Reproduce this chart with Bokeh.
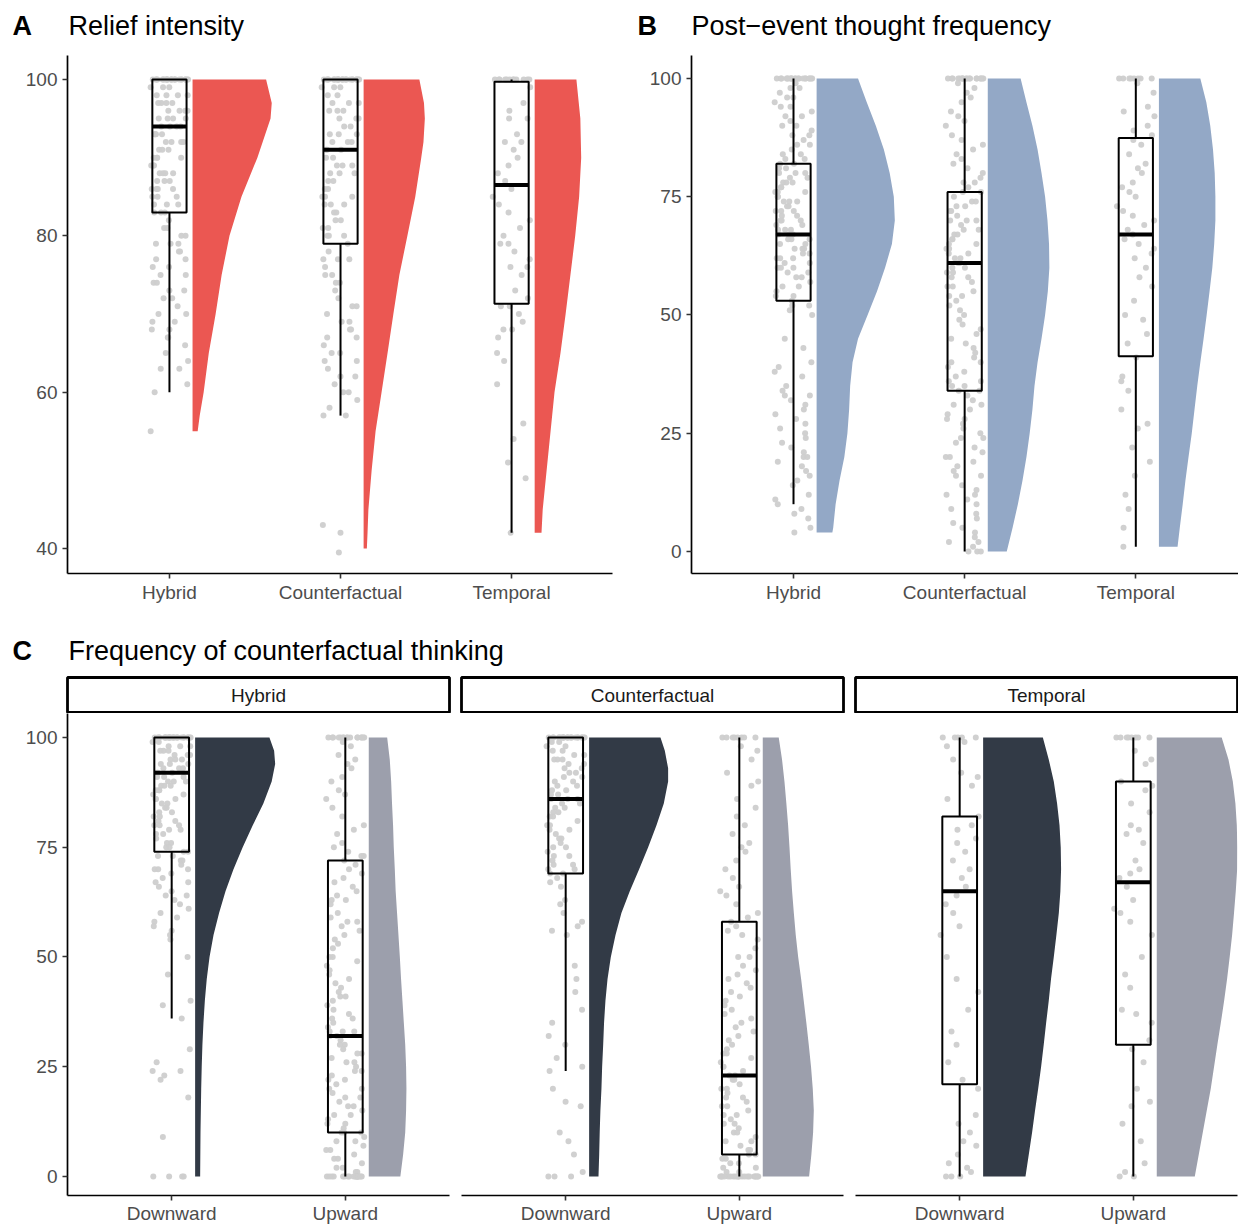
import math
from bokeh.plotting import figure
from bokeh.layouts import column, row
from bokeh.models import FixedTicker, Range1d
from bokeh.embed import file_html
from bokeh.resources import INLINE
from bokeh.core.properties import value

# ---------------- DATA ----------------
groups_ab = ["Hybrid", "Counterfactual", "Temporal"]
groups_c = ["Downward", "Upward"]
ticks_a = [40, 60, 80, 100]
ticks_bc = [0, 25, 50, 75, 100]

# box stats: (whisker low, q1, median, q3, whisker high)
box_a = [(60, 83, 94, 100, 100), (57, 79, 91, 100, 100), (42, 71.3, 86.5, 99.7, 100)]
box_b = [(10, 53, 67, 82, 100), (0, 34, 61, 76, 100), (1, 41.3, 67, 87.4, 100)]
box_c = {
    "Hybrid": [(36, 74, 92, 100, 100), (0, 10, 32, 72, 100)],
    "Counterfactual": [(24, 69, 86, 100, 100), (0, 5, 23, 58, 100)],
    "Temporal": [(0, 21, 65, 82, 100), (0, 30, 67, 90, 100)],
}

# half-violin outlines: y levels and half widths (x units)
vio_a_y = [
    [55, 57, 60, 65, 70, 75, 80, 85, 90, 95, 97, 100],
    [40, 42, 45, 50, 55, 60, 65, 70, 75, 80, 85, 90, 92, 95, 97, 100],
    [42, 45, 50, 55, 60, 65, 70, 75, 80, 85, 90, 95, 100],
]
vio_a_w = [
    [0.030, 0.042, 0.065, 0.095, 0.135, 0.170, 0.216, 0.286, 0.379, 0.456, 0.463, 0.430],
    [0.019, 0.023, 0.028, 0.047, 0.070, 0.105, 0.140, 0.174, 0.209, 0.256, 0.302, 0.337, 0.350, 0.358, 0.353, 0.326],
    [0.040, 0.047, 0.070, 0.093, 0.116, 0.151, 0.181, 0.209, 0.237, 0.260, 0.272, 0.267, 0.244],
]
vio_b_y = [
    [4, 5, 10, 15, 20, 25, 30, 35, 40, 45, 50, 55, 60, 65, 70, 75, 80, 85, 90, 95, 100],
    [0, 5, 10, 15, 20, 25, 30, 35, 40, 45, 50, 55, 60, 65, 70, 75, 80, 85, 90, 95, 100],
    [1, 5, 10, 15, 20, 25, 30, 35, 40, 45, 50, 55, 60, 65, 70, 75, 80, 85, 90, 95, 100],
]
vio_b_w = [
    [0.092, 0.097, 0.111, 0.134, 0.162, 0.180, 0.190, 0.196, 0.210, 0.242, 0.298, 0.353, 0.400, 0.440, 0.457, 0.451, 0.427, 0.393, 0.346, 0.293, 0.242],
    [0.111, 0.145, 0.176, 0.203, 0.226, 0.245, 0.261, 0.273, 0.291, 0.314, 0.335, 0.351, 0.360, 0.358, 0.349, 0.335, 0.314, 0.291, 0.261, 0.226, 0.192],
    [0.109, 0.122, 0.139, 0.155, 0.173, 0.192, 0.208, 0.224, 0.242, 0.261, 0.279, 0.296, 0.312, 0.323, 0.330, 0.330, 0.326, 0.316, 0.300, 0.277, 0.242],
]
lev21 = [0, 5, 10, 15, 20, 25, 30, 35, 40, 45, 50, 55, 60, 65, 70, 75, 80, 85, 90, 95, 100]
vio_c_y = {
    "Hybrid": [[0, 10, 20, 25, 30, 35, 40, 45, 50, 55, 60, 65, 70, 75, 80, 85, 90, 94, 97, 100], lev21],
    "Counterfactual": [[0, 5, 10, 15, 20, 25, 30, 35, 40, 45, 50, 55, 60, 65, 70, 75, 80, 85, 90, 93, 97, 100], lev21],
    "Temporal": [lev21, lev21],
}
vio_c_w = {
    "Hybrid": [
        [0.029, 0.031, 0.035, 0.038, 0.042, 0.048, 0.056, 0.067, 0.083, 0.106, 0.138, 0.175, 0.221, 0.274, 0.332, 0.393, 0.441, 0.461, 0.455, 0.428],
        [0.182, 0.198, 0.210, 0.215, 0.217, 0.215, 0.210, 0.202, 0.194, 0.186, 0.179, 0.171, 0.163, 0.155, 0.150, 0.144, 0.140, 0.134, 0.129, 0.121, 0.106],
    ],
    "Counterfactual": [
        [0.054, 0.058, 0.061, 0.065, 0.071, 0.075, 0.081, 0.086, 0.094, 0.106, 0.125, 0.152, 0.186, 0.234, 0.288, 0.340, 0.388, 0.430, 0.455, 0.455, 0.436, 0.411],
        [0.267, 0.280, 0.290, 0.294, 0.288, 0.278, 0.265, 0.251, 0.236, 0.221, 0.204, 0.190, 0.179, 0.169, 0.161, 0.154, 0.146, 0.136, 0.125, 0.111, 0.092],
    ],
    "Temporal": [
        [0.244, 0.263, 0.282, 0.299, 0.317, 0.334, 0.349, 0.363, 0.378, 0.391, 0.407, 0.422, 0.436, 0.445, 0.449, 0.447, 0.440, 0.426, 0.407, 0.378, 0.344],
        [0.219, 0.242, 0.265, 0.288, 0.311, 0.330, 0.349, 0.369, 0.388, 0.405, 0.420, 0.434, 0.445, 0.455, 0.463, 0.464, 0.461, 0.453, 0.438, 0.413, 0.374],
    ],
}

# raw (jittered) observations
pts_a = [
    [100, 100, 100, 100, 100, 100, 100, 100, 100, 100, 100, 100, 100, 100, 100, 100, 100, 100,
     100, 100, 100, 100, 100, 100,
     99, 99, 99, 98, 98, 98, 98, 97, 97, 97, 97, 96, 96, 96, 96, 95, 95, 95, 95, 94, 94, 94, 94,
     93, 93, 93, 93, 92, 92, 92, 92, 91, 91, 91, 90, 90, 90, 90, 89, 89, 89, 88, 88, 88, 88, 87,
     87, 87, 86, 86, 86, 86, 85, 85, 85, 84, 84, 84, 83, 83, 83,
     82, 81, 81, 80, 80, 79, 79, 79, 78, 78, 77, 77, 76, 76, 75, 75, 74, 74, 73, 73, 72, 72, 71,
     70, 70, 69, 69, 68, 68, 67, 67, 66, 65, 64, 63, 63, 61, 60, 55],
    [100, 100, 100, 100, 100, 100, 100, 100, 100, 100, 100, 100, 100, 100, 100, 100, 100, 100,
     100, 100, 100, 100, 100, 100,
     99, 99, 99, 98, 98, 97, 97, 97, 96, 96, 96, 95, 95, 95, 94, 94, 93, 93, 93, 92, 92, 92, 91,
     91, 91, 90, 90, 89, 89, 89, 88, 88, 88, 87, 87, 86, 86, 85, 85, 85, 84, 84, 84, 83, 83, 82,
     82, 81, 81, 80, 80, 80, 79,
     78, 77, 77, 77, 76, 75, 75, 74, 74, 73, 72, 71, 71, 70, 69, 69, 68, 68, 67, 67, 66, 65, 65,
     64, 64, 63, 62, 62, 61, 60, 60, 59, 58, 57, 57, 43, 42, 39.5],
    [100, 100, 100, 100, 100, 100, 100, 100, 100, 100, 100, 100, 99, 97, 96, 95, 95, 93, 92, 92,
     91, 90, 89, 88, 87, 86, 85, 84, 83, 82, 81, 80, 79, 79, 78, 77, 76, 76, 75, 73, 72, 71, 71,
     70, 69, 68, 68, 67, 65, 64, 61, 56, 54, 51, 49, 42],
]
pts_b = [
    [100, 100, 100, 100, 100, 100, 100, 100, 100, 100, 100, 100, 100, 100, 100, 100, 100, 100,
     100, 100, 99, 98, 98, 97, 96, 96, 95, 94, 94, 93, 92, 92, 91, 90, 90, 89, 88, 88, 87, 86,
     86, 85, 84, 84, 83, 83, 82, 82, 81, 81, 80, 80, 80, 79, 79, 78, 78, 78, 77, 77, 76, 76, 76,
     75, 75, 74, 74, 74, 73, 73, 72, 72, 72, 71, 71, 70, 70, 70, 69, 69, 68, 68, 68, 67, 67, 67,
     66, 66, 66, 65, 65, 64, 64, 64, 63, 63, 62, 62, 62, 61, 61, 60, 60, 60, 59, 59, 58, 58, 57,
     56, 56, 55, 54, 54, 53, 52, 52, 51, 50, 45, 43, 40, 39, 38, 37, 35, 34, 33, 33, 32, 31, 30,
     29, 28, 27, 26, 25, 24, 23, 22, 21, 20, 20, 19, 18, 17, 16, 15, 14, 12, 11, 10, 9, 8, 7,
     5, 4],
    [100, 100, 100, 100, 100, 100, 100, 100, 100, 100, 100, 100, 100, 100, 100, 100, 100, 100,
     99, 98, 97, 96, 95, 93, 92, 91, 90, 88, 87, 86, 85, 84, 83, 82, 81, 80, 79, 78, 78, 77, 76,
     76, 75, 74, 74, 73, 73, 72, 72, 71, 70, 70, 70, 69, 68, 68, 67, 67, 66, 66, 65, 65, 64, 64,
     63, 63, 62, 62, 61, 61, 60, 60, 59, 59, 58, 58, 57, 56, 56, 55, 54, 54, 53, 52, 51, 50, 49,
     48, 47, 46, 45, 44, 43, 42, 41, 40, 40, 39, 38, 37, 36, 36, 35, 35, 34, 34, 33, 32, 31, 31,
     30, 29, 28, 28, 27, 26, 25, 24, 24, 23, 22, 21, 20, 20, 19, 18, 17, 16, 16, 14, 13, 12, 12,
     11, 10, 9, 8, 7, 6, 5, 4, 3, 2, 2, 1, 0, 0, 0],
    [100, 100, 100, 100, 100, 100, 100, 100, 99, 97, 94, 93, 92, 90, 89, 88, 87, 86, 84, 82, 81,
     80, 78, 77, 76, 75, 73, 72, 71, 70, 69, 68, 67, 66, 65, 64, 63, 62, 60, 58, 56, 53, 50, 49,
     46, 44, 41, 37, 36, 34, 30, 27, 26, 22, 19, 16, 12, 9, 5, 1],
]
pts_c = {
    "Hybrid": [
        [100, 100, 100, 100, 100, 100, 100, 100, 100, 100, 100, 100, 100, 100, 100, 100, 100, 100,
         100, 100, 100, 100, 100, 100, 100, 100,
         99, 99, 98, 98, 98, 97, 97, 97, 96, 96, 96, 95, 95, 95, 94, 94, 94, 93, 93, 93, 92, 92,
         92, 91, 91, 91, 90, 90, 90, 89, 89, 89, 88, 88, 88, 87, 87, 86, 86, 86, 85, 85, 84, 84,
         83, 83, 82, 82, 81, 81, 80, 80, 80, 79, 79, 78, 78, 77, 76, 76, 75, 75, 74, 74, 73, 73,
         72, 72, 71, 70, 70, 70, 69, 68, 67, 67, 66, 65, 64, 64, 63, 62, 61, 60, 59, 58, 57, 56,
         55, 54, 50, 46, 40, 39, 36, 29, 26, 24, 24, 23, 22, 18, 9, 0, 0, 0, 0],
        [100, 100, 100, 100, 100, 100, 100, 100, 100, 100, 100, 100, 100, 100, 100, 100, 99, 98,
         96, 95, 94, 93, 91, 90, 88, 87, 86, 84, 82, 80, 79, 78, 76, 75, 74, 73, 73, 72, 71, 70,
         69, 68, 67, 66, 65, 64, 63, 63, 62, 60, 59, 58, 58, 57, 56, 55, 54, 53, 52, 50, 50, 49,
         48, 47, 46, 45, 44, 43, 42, 41, 41, 40, 39, 38, 37, 36, 36, 35, 34, 33, 33, 33, 32, 32,
         31, 30, 30, 29, 28, 28, 27, 26, 26, 25, 24, 24, 23, 22, 22, 21, 20, 20, 19, 18, 18, 17,
         16, 16, 15, 14, 14, 13, 12, 12, 11, 10, 10, 10, 9, 8, 8, 7, 6, 6, 5, 4, 4, 3, 2, 2, 1,
         1, 0, 0, 0, 0, 0, 0, 0, 0, 0, 0, 0, 0, 0, 0, 0, 0, 0, 0],
    ],
    "Counterfactual": [
        [100, 100, 100, 100, 100, 100, 100, 100, 100, 100, 100, 100, 100, 100, 100, 100, 100, 100,
         100, 100, 100, 100, 100, 99, 99, 98, 98, 97, 97, 96, 96, 95, 95, 95, 94, 94, 93, 93, 92,
         92, 91, 91, 90, 90, 89, 89, 88, 88, 87, 87, 86, 86, 86, 85, 85, 84, 84, 83, 83, 82, 82,
         81, 80, 80, 79, 79, 78, 77, 77, 76, 75, 75, 74, 73, 73, 72, 71, 71, 70, 70, 69, 69, 68,
         67, 66, 63, 62, 60, 58, 57, 56, 55, 48, 45, 42, 38, 35, 32, 30, 27, 25, 24, 20, 17, 16,
         10, 8, 5, 1, 0, 0, 0],
        [100, 100, 100, 100, 100, 100, 100, 100, 98, 97, 95, 92, 90, 89, 86, 84, 82, 80, 78, 76,
         75, 74, 72, 70, 68, 66, 65, 64, 62, 60, 59, 58, 57, 56, 55, 54, 52, 50, 50, 48, 47, 46,
         45, 44, 43, 42, 41, 40, 39, 38, 37, 36, 35, 34, 33, 32, 31, 30, 29, 28, 28, 27, 26, 25,
         25, 24, 23, 23, 22, 22, 21, 20, 20, 19, 18, 18, 17, 16, 16, 15, 14, 14, 13, 12, 12, 11,
         10, 10, 9, 8, 8, 7, 6, 6, 5, 5, 4, 4, 3, 3, 2, 2, 1, 1, 0, 0, 0, 0, 0, 0, 0, 0, 0, 0,
         0, 0, 0, 0, 0, 0, 0, 0, 0, 0],
    ],
    "Temporal": [
        [100, 100, 100, 100, 100, 99, 98, 95, 92, 91, 89, 86, 82, 80, 79, 77, 76, 74, 72, 70, 68,
         66, 64, 62, 60, 57, 55, 50, 45, 42, 38, 33, 30, 26, 22, 20, 14, 12, 10, 8, 7, 5, 3, 2, 1,
         0, 0, 0],
        [100, 100, 100, 100, 100, 100, 100, 100, 97, 95, 94, 90, 89, 88, 85, 83, 80, 79, 78, 76,
         72, 70, 69, 68, 66, 63, 61, 60, 58, 55, 50, 46, 43, 38, 37, 35, 31, 29, 26, 20, 17, 16,
         12, 8, 3, 1, 0, 0],
    ],
}

# ---------------- STYLE ----------------
FONT = "Liberation Sans"
LABEL_COL = "#4D4D4D"
PT_COL = "#CDCDCD"
COL_A = "#EB5752"
COL_B = "#93A8C6"
COL_C = ["#323A46", "#9C9FAC"]
BOX_W = 0.2
VIO_OFF = 0.135
JIT = 0.11
TXT_SHIFT = 10  # measured offset of the rendered alphabetic baseline


def jitter(n):
    out = []
    for i in range(n):
        u = math.sin((i + 1) * 12.9898) * 43758.5453
        u = u - math.floor(u)
        out.append((u * 2 - 1) * JIT)
    return out


def style_axes(p, xticks, xlabels, yticks):
    p.xgrid.visible = False
    p.ygrid.visible = False
    p.outline_line_color = None
    for ax in p.axis:
        ax.axis_line_color = "black"
        ax.axis_line_width = 1.7
        ax.major_tick_line_color = "#333333"
        ax.major_tick_line_width = 1.6
        ax.major_tick_in = 0
        ax.major_tick_out = 5
        ax.minor_tick_line_color = None
        ax.major_label_text_font = FONT
        ax.major_label_text_font_size = "19px"
        ax.major_label_text_color = LABEL_COL
    p.xaxis.ticker = FixedTicker(ticks=xticks)
    p.xaxis.major_label_overrides = {t: l for t, l in zip(xticks, xlabels)}
    p.xaxis.major_label_standoff = 3
    if p.yaxis:
        p.yaxis.ticker = FixedTicker(ticks=yticks)
        p.yaxis.major_label_standoff = 5


def draw_group(p, c, box, vy, vw, pts, color):
    p.harea(x1=[c + VIO_OFF] * len(vy), x2=[c + VIO_OFF + w for w in vw], y=vy,
            fill_color=color, fill_alpha=1.0)
    js = jitter(len(pts))
    p.scatter(x=[c + j for j in js], y=pts, size=6, fill_color=PT_COL,
              line_color=None, fill_alpha=0.95)
    lo, q1, med, q3, hi = box
    p.segment(x0=[c, c], x1=[c, c], y0=[lo, q3], y1=[q1, hi], line_color="black", line_width=2)
    p.quad(left=[c - BOX_W / 2], right=[c + BOX_W / 2], bottom=[q1], top=[q3],
           fill_color=None, line_color="black", line_width=2)
    p.segment(x0=[c - BOX_W / 2], x1=[c + BOX_W / 2], y0=[med], y1=[med],
              line_color="black", line_width=4)


def blank(width, height, xr, yr):
    f = figure(width=width, height=height, x_range=Range1d(*xr), y_range=Range1d(*yr),
               output_backend="svg", toolbar_location=None, x_axis_location=None,
               y_axis_location=None, min_border=0)
    f.xgrid.visible = False
    f.ygrid.visible = False
    f.outline_line_color = None
    return f


TOTAL_W = 1238


def title_row(height, baseline_page_y, top_page_y, items):
    f = blank(TOTAL_W, height, (0, TOTAL_W), (0, height))
    y = height - (baseline_page_y - top_page_y) + TXT_SHIFT
    for x, txt, bold in items:
        f.text(x=[x], y=[y], text=[txt], text_font=value(FONT), text_font_size="27px",
               text_font_style="bold" if bold else "normal", text_color="black",
               text_baseline="alphabetic")
    return f


# ---- title row A/B ----  (page 0..55)
t1 = title_row(55, 35, 0, [(12, "A", True), (68, "Relief intensity", False),
                           (637, "B", True), (691, "Post\u2212event thought frequency", False)])

# ---- panels A and B ----  (page 55..612, frame 55..573)
xt3 = [1, 2, 3]
pa = figure(width=630, height=557, x_range=Range1d(0.404, 3.59), y_range=Range1d(36.8, 103.07),
            output_backend="svg", toolbar_location=None, min_border_left=67,
            min_border_right=18, min_border_top=0, min_border_bottom=39)
style_axes(pa, xt3, groups_ab, ticks_a)
for i in range(3):
    draw_group(pa, i + 1, box_a[i], vio_a_y[i], vio_a_w[i], pts_a[i], COL_A)

pb = figure(width=608, height=557, x_range=Range1d(0.404, 3.6), y_range=Range1d(-4.65, 104.86),
            output_backend="svg", toolbar_location=None, min_border_left=61,
            min_border_right=0, min_border_top=0, min_border_bottom=39)
style_axes(pb, xt3, groups_ab, ticks_bc)
for i in range(3):
    draw_group(pb, i + 1, box_b[i], vio_b_y[i], vio_b_w[i], pts_b[i], COL_B)

# ---- title row C ----  (page 612..675)
t2 = title_row(63, 660, 612, [(12, "C", True), (68, "Frequency of counterfactual thinking", False)])

# ---- facets C ----  (strips page 675..713, panels 713..1226)
facet_specs = [("Hybrid", 455, 67, 6), ("Counterfactual", 394, 6, 6), ("Temporal", 389, 6, 1)]
cols = []
xt2 = [1, 2]
for k, (name, w, bl, br) in enumerate(facet_specs):
    s = figure(width=w, height=38, x_range=Range1d(0, 1), y_range=Range1d(0, 1),
               output_backend="svg", toolbar_location=None, x_axis_location=None,
               y_axis_location=None, min_border_left=bl, min_border_right=br,
               min_border_top=2, min_border_bottom=1)
    s.xgrid.visible = False
    s.ygrid.visible = False
    s.outline_line_color = "black"
    s.outline_line_width = 2.8
    s.text(x=[0.5], y=[0.5], text=[name], text_font=value(FONT), text_font_size="19px",
           text_color="#1A1A1A", text_align="center", text_baseline="middle")
    kw = {} if k == 0 else {"y_axis_location": None}
    f = figure(width=w, height=513, x_range=Range1d(0.4, 2.6), y_range=Range1d(-4.35, 105.48),
               output_backend="svg", toolbar_location=None, min_border_left=bl,
               min_border_right=br, min_border_top=0, min_border_bottom=28, **kw)
    style_axes(f, xt2, groups_c, ticks_bc)
    f.xaxis.major_label_standoff = 2
    for j in range(2):
        draw_group(f, j + 1, box_c[name][j], vio_c_y[name][j], vio_c_w[name][j],
                   pts_c[name][j], COL_C[j])
    cols.append(column(s, f, spacing=0))

layout = column(t1, row(pa, pb, spacing=0), t2, row(*cols, spacing=0), spacing=0)

open("out.html", "w").write(file_html(layout, INLINE))
